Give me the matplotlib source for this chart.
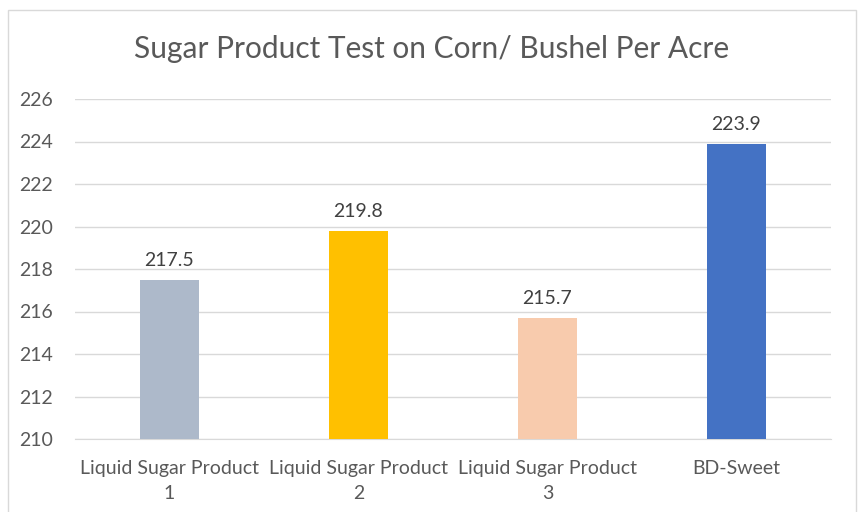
import matplotlib.pyplot as plt
import matplotlib.patches as patches

categories = ['Liquid Sugar Product\n1', 'Liquid Sugar Product\n2',
              'Liquid Sugar Product\n3', 'BD-Sweet']
values = [217.5, 219.8, 215.7, 223.9]
colors = ['#ADB9CA', '#FFC000', '#F8CBAD', '#4472C4']
yticks = [210, 212, 214, 216, 218, 220, 222, 224, 226]

plt.rcParams['font.family'] = ['Lato', 'DejaVu Sans']

W, H = 859, 512
fig = plt.figure(figsize=(W / 100, H / 100), dpi=100)
ax = fig.add_axes([75 / W, 1 - 439 / H, (831 - 75) / W, (439 - 99) / H])

# outer chart border
fig.patches.append(patches.Rectangle((8 / W, -0.05), (856 - 8) / W, 1 - 10 / H + 0.05,
                                     transform=fig.transFigure, fill=False,
                                     edgecolor='#D9D9D9', linewidth=1))

x = range(len(categories))
bars = ax.bar(x, [v - 210 for v in values], bottom=210, width=0.31, color=colors, zorder=3)
for xi, v in zip(x, values):
    ax.text(xi, v + 0.5, f'{v:.1f}', ha='center', va='bottom', fontsize=14, color='#404040')

ax.set_xlim(-0.5, len(categories) - 0.5)
ax.set_ylim(210, 226)
ax.set_yticks(yticks)
ax.set_xticks(list(x))
ax.set_xticklabels(categories, fontsize=14, color='#595959', linespacing=1.6)
ax.tick_params(axis='y', labelsize=14, labelcolor='#595959', length=0, pad=16)
ax.tick_params(axis='x', length=0, pad=15)
ax.grid(axis='y', color='#D9D9D9', linewidth=1, zorder=0)
for s in ['top', 'right', 'left']:
    ax.spines[s].set_visible(False)
ax.spines['bottom'].set_color('#D9D9D9')

fig.text(432 / W, 1 - 49 / H, 'Sugar Product Test on Corn/ Bushel Per Acre',
         ha='center', va='center', fontsize=21.5, color='#595959')

fig.savefig('out.png', dpi=100)
